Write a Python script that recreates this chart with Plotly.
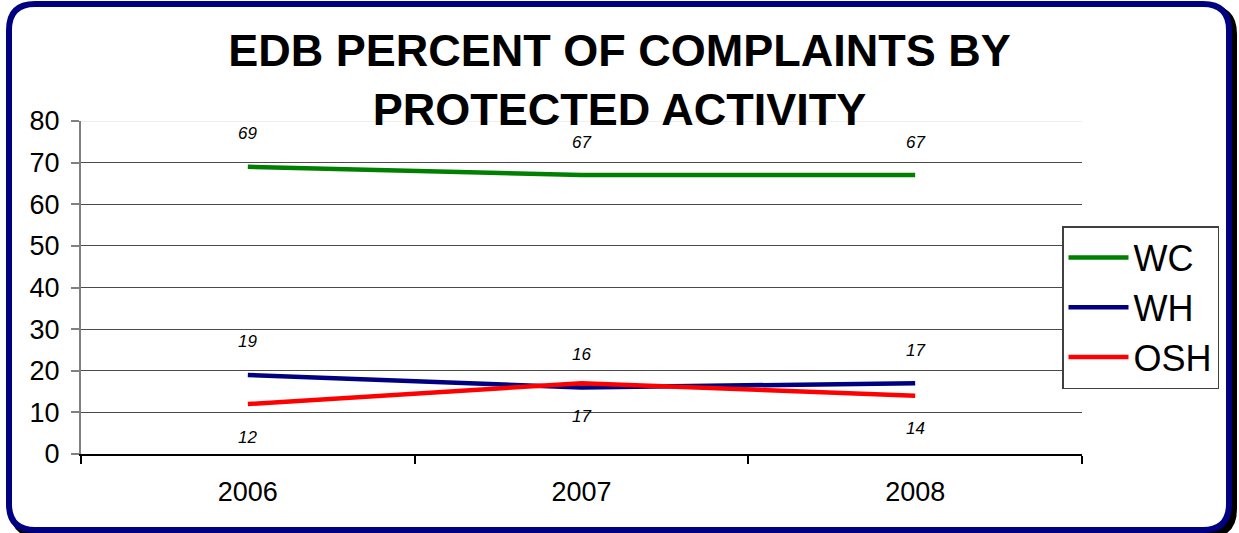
import plotly.graph_objects as go

years = ["2006", "2007", "2008"]
wc = [69, 67, 67]
wh = [19, 16, 17]
osh = [12, 17, 14]
series_names = ["WC", "WH", "OSH"]
series_colors = ["#008000", "#000080", "#ff0000"]
label_side = [1, 1, -1]  # above / above / below

W, H = 1239, 533
L, R, T, B = 81, 1082, 121, 454

def px(x):
    return (x - L) / (R - L)

def py(y):
    return (B - y) / (B - T)

def rounded_path(x0, y0, x1, y1, r):
    pts = [
        ("M", [(x0 + r, y0)]),
        ("L", [(x1 - r, y0)]),
        ("Q", [(x1, y0), (x1, y0 + r)]),
        ("L", [(x1, y1 - r)]),
        ("Q", [(x1, y1), (x1 - r, y1)]),
        ("L", [(x0 + r, y1)]),
        ("Q", [(x0, y1), (x0, y1 - r)]),
        ("L", [(x0, y0 + r)]),
        ("Q", [(x0, y0), (x0 + r, y0)]),
    ]
    s = ""
    for cmd, ps in pts:
        s += cmd + " ".join(f"{px(a):.5f},{py(b):.5f}" for a, b in ps) + " "
    return s + "Z"

fig = go.Figure()
all_vals = [wc, wh, osh]
for name, vals, col in zip(series_names, all_vals, series_colors):
    fig.add_trace(go.Scatter(x=years, y=vals, name=name, mode="lines",
                             line=dict(color=col, width=4.5)))

annotations = []
for vals, side in zip(all_vals, label_side):
    for i, v in enumerate(vals):
        annotations.append(dict(x=i, y=v, xref="x", yref="y",
                                text=f"<i>{v}</i>",
                                showarrow=False, yshift=33 * side,
                                font=dict(family="Liberation Sans", size=17,
                                          color="black")))

shapes = [
    dict(type="path", xref="paper", yref="paper", layer="below",
         path=rounded_path(13, 8, 1234, 535, 26),
         fillcolor="black", line=dict(color="black", width=6)),
    dict(type="path", xref="paper", yref="paper", layer="below",
         path=rounded_path(9, 4, 1229, 530, 26),
         fillcolor="white", line=dict(color="#000080", width=6)),
    dict(type="line", xref="paper", yref="y", x0=0, x1=1, y0=80, y1=80,
         layer="below", line=dict(color="#e0e0e0", width=1)),
]

fig.update_layout(
    width=W, height=H,
    margin=dict(l=L, r=W - R, t=T, b=H - B, autoexpand=False),
    paper_bgcolor="white",
    plot_bgcolor="rgba(0,0,0,0)",
    font=dict(family="Liberation Sans", color="black"),
    title=dict(text="<b>EDB PERCENT OF COMPLAINTS BY<br>PROTECTED ACTIVITY</b>",
               x=0.5, xref="container", xanchor="center",
               y=1 - 66 / H, yref="container", yanchor="top",
               font=dict(family="Liberation Sans", size=45, color="black")),
    showlegend=True,
    legend=dict(x=px(1062), y=py(226), xanchor="left", yanchor="top",
                bordercolor="#404040", borderwidth=1.5, bgcolor="white",
                font=dict(family="Liberation Sans", size=36, color="black"),
                itemwidth=60),
    xaxis=dict(type="category", range=[-0.5, 2.5], tickson="boundaries",
               ticks="outside", ticklen=8, tickcolor="black", tickwidth=1.5,
               showline=True, linecolor="black", linewidth=1.5,
               showgrid=False, ticklabelstandoff=13,
               tickfont=dict(size=27, color="black")),
    yaxis=dict(range=[0, 80], dtick=10, tick0=0, ticks="outside", ticklen=8,
               tickcolor="#808080", tickwidth=1.5,
               showline=True, linecolor="#808080", linewidth=2,
               showgrid=True, gridcolor="#4a4a4a", gridwidth=1,
               zeroline=False, ticklabelstandoff=6,
               tickfont=dict(size=27, color="black")),
    annotations=annotations,
    shapes=shapes,
)

fig.write_html("out.html", config={"displayModeBar": False},
               post_script="document.body.style.margin='0';"
                           "document.body.style.overflow='hidden';")
